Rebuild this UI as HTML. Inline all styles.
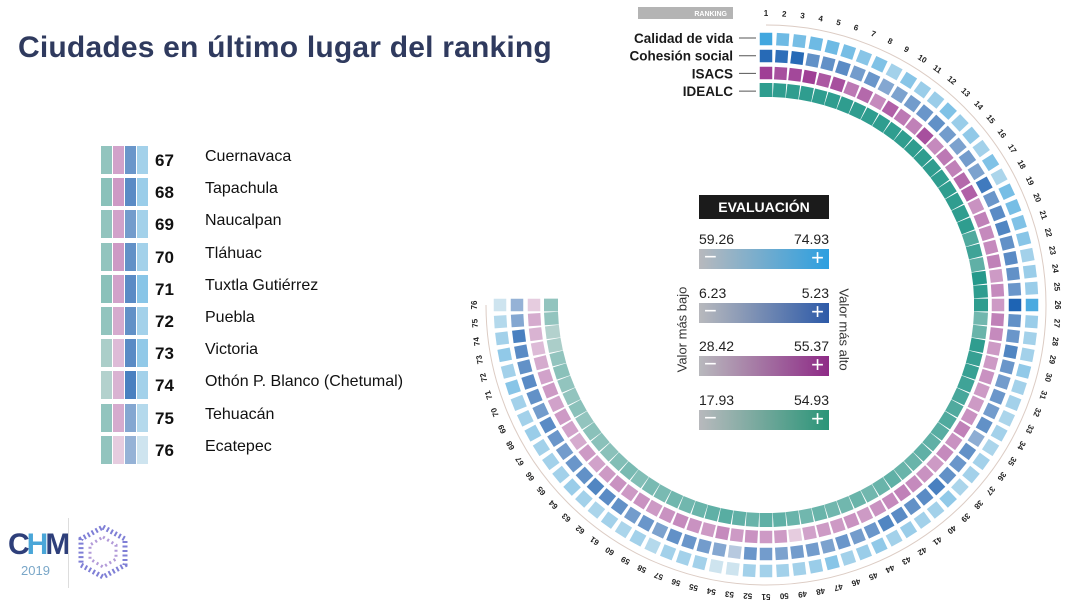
<!DOCTYPE html>
<html><head><meta charset="utf-8">
<style>
body{margin:0;width:1080px;height:604px;background:#fff;overflow:hidden;font-family:"Liberation Sans",sans-serif;position:relative}
.abs{position:absolute}
</style></head>
<body>
<div class="abs" style="left:18px;top:31px;font-size:30px;font-weight:bold;color:#2f3a5e;white-space:nowrap;letter-spacing:0.2px">Ciudades en último lugar del ranking</div>

<div class="abs" id="legendList" style="left:0;top:0"></div>

<div class="abs" style="left:8px;top:525px;width:55px;height:60px">
  <div style="font-size:30px;font-weight:bold;color:#2e3f7a;letter-spacing:-3px;line-height:30px;margin-top:5px">C<span style="color:#4aa6d8">H</span>M</div>
  <div style="font-size:13px;color:#7aa7c8;text-align:center;line-height:14px;margin-top:4px">2019</div>
</div>
<div class="abs" style="left:68px;top:518px;width:1px;height:70px;background:#ddd"></div>
<svg class="abs" style="left:78px;top:525px" width="50" height="55">
  <polygon points="25,2 47,14 47,40 25,52 3,40 3,14" fill="none" stroke="#7f7fd6" stroke-width="5" stroke-dasharray="2 2.5"/>
  <polygon points="25,12 38,20 38,34 25,42 12,34 12,20" fill="none" stroke="#b29ad8" stroke-width="3" stroke-dasharray="2 3"/>
</svg>

<svg id="chart" class="abs" style="left:0;top:0" width="1080" height="604"></svg>

<div class="abs" style="left:699px;top:195px;width:130px;height:24px;background:#1b1b1b;color:#fff;font-weight:bold;font-size:14px;line-height:24px;text-align:center">EVALUACIÓN</div>
<div id="evals"></div>
<div class="abs" style="left:612px;top:322px;width:140px;transform:rotate(-90deg);font-size:13px;color:#333;text-align:center">Valor más bajo</div>
<div class="abs" style="left:774px;top:322px;width:140px;transform:rotate(90deg);font-size:13px;color:#333;text-align:center">Valor más alto</div>

<script>
const calidad=[.85,.6,.55,.6,.6,.55,.45,.5,.3,.45,.35,.35,.5,.35,.4,.3,.5,.25,.55,.55,.5,.45,.3,.35,.35,.8,.35,.3,.3,.4,.3,.3,.25,.3,.25,.3,.3,.25,.4,.3,.3,.35,.3,.4,.35,.3,.45,.35,.3,.3,.3,.3,.05,.05,.3,.3,.3,.2,.3,.25,.3,.25,.3,.35,.3,.3,.3,.35,.3,.3,.45,.3,.4,.3,.2,.05];
const cohesion=[.95,.9,.95,.6,.6,.65,.5,.55,.4,.45,.5,.55,.6,.5,.45,.5,.45,.8,.55,.65,.7,.6,.65,.6,.55,1,.6,.55,.7,.55,.5,.55,.5,.6,.35,.6,.55,.6,.75,.65,.6,.65,.7,.55,.5,.55,.45,.5,.5,.45,.5,.55,.1,.4,.5,.55,.6,.45,.55,.5,.6,.65,.7,.6,.55,.5,.55,.65,.5,.6,.65,.6,.65,.75,.4,.3];
const isacs=[.95,.85,.9,.95,.8,.85,.6,.7,.5,.75,.6,.55,.85,.5,.6,.55,.7,.75,.45,.55,.5,.5,.55,.4,.5,.4,.55,.5,.4,.4,.45,.4,.4,.45,.55,.45,.5,.4,.45,.5,.55,.5,.45,.4,.45,.4,.4,.35,.1,.4,.4,.45,.4,.5,.4,.45,.5,.45,.4,.45,.4,.45,.4,.35,.4,.3,.35,.4,.35,.4,.35,.3,.2,.25,.3,.1];
const idealc=[.9,.9,.9,.9,.9,.9,.9,.9,.9,.9,.9,.9,.9,.9,.9,.9,.9,.9,.9,.9,.7,.8,.6,.95,.9,.9,.5,.55,.9,.85,.85,.8,.75,.7,.7,.65,.6,.6,.55,.55,.6,.55,.5,.55,.5,.5,.55,.5,.55,.6,.6,.55,.6,.65,.6,.55,.5,.5,.45,.45,.4,.45,.4,.35,.35,.35,.3,.35,.3,.3,.35,.3,.15,.1,.3,.3];
const seriesNames=["Calidad de vida","Cohesión social","ISACS","IDEALC"];
const cities=["Cuernavaca","Tapachula","Naucalpan","Tláhuac","Tuxtla Gutiérrez","Puebla","Victoria","Othón P. Blanco (Chetumal)","Tehuacán","Ecatepec"];
const evalLow=["59.26","6.23","28.42","17.93"];
const evalHigh=["74.93","5.23","55.37","54.93"];

const series=[calidad,cohesion,isacs,idealc];
const lowC=[[215,232,240],[200,212,228],[238,220,232],[196,216,213]];
const highC=[[40,155,220],[30,100,180],[155,55,145],[30,150,135]];
const grad=["#2c9fe0","#2d5aa8","#8e2a86","#2a9578"];
function col(s,t){const a=lowC[s],b=highC[s];return `rgb(${a.map((v,i)=>Math.round(v+(b[i]-v)*t)).join(',')})`;}
const NS="http://www.w3.org/2000/svg";
const svg=document.getElementById('chart');
const cx=766,cy=305,radii=[266,249,232,215];
const N=calidad.length;
function ang(i){return -90+i*270/(N-1);}
function mk(tag,attrs){const e=document.createElementNS(NS,tag);for(const k in attrs)e.setAttribute(k,attrs[k]);svg.appendChild(e);return e;}
const R0=280;
const arc=mk('path',{d:`M ${cx} ${cy-R0} A ${R0} ${R0} 0 1 1 ${cx-R0} ${cy}`,fill:'none',stroke:'#dcccc4','stroke-width':1});


for(let s=0;s<4;s++){
  for(let i=0;i<N;i++){
    const a=ang(i),r=radii[s],rad=a*Math.PI/180;
    const x=cx+r*Math.cos(rad),y=cy+r*Math.sin(rad);
    const w=(s==3)?r*Math.PI*3.6/180-0.8:12.5;
    const h=(s==3)?14:12.5;
    const c=mk('rect',{x:-w/2,y:-h/2,width:w,height:h,fill:col(s,series[s][i]),transform:`translate(${x.toFixed(1)},${y.toFixed(1)}) rotate(${(a+90).toFixed(1)})`});
    
    
  }
}
for(let i=0;i<N;i++){
  const a=ang(i),rad=a*Math.PI/180,r=292;
  const t=mk('text',{x:0,y:3,'font-size':8,'font-weight':'bold','text-anchor':'middle',fill:'#222',transform:`translate(${(cx+r*Math.cos(rad)).toFixed(1)},${(cy+r*Math.sin(rad)).toFixed(1)}) rotate(${(a+90).toFixed(1)})`});
  t.textContent=i+1;
  
  
}
const rb=mk('rect',{x:638,y:7,width:95,height:12,fill:'#b4b4b4'});


const rt=mk('text',{x:727,y:16,'font-size':7,'font-weight':'bold','text-anchor':'end',fill:'#fff'});
rt.textContent='RANKING';


for(let s=0;s<4;s++){
  const y=38+s*17.7;
  const t=mk('text',{x:733,y:y+5,'font-size':13.5,'font-weight':'bold','text-anchor':'end',fill:'#1a1a1a'});
  t.textContent=seriesNames[s];
  
  
  const l=mk('line',{x1:739,x2:756,y1:y,y2:y,stroke:'#555','stroke-width':1});
  
  
}
const ev=document.getElementById('evals');
for(let k=0;k<4;k++){
  const top=249+k*53.7;
  const d=document.createElement('div');
  d.className='abs';
  
  
  d.style.cssText=`left:699px;top:${top-19}px;width:130px;height:40px;`;
  d.innerHTML=`<div style="display:flex;justify-content:space-between;font-size:14px;color:#222;height:19px;line-height:19px"><span>${evalLow[k]}</span><span>${evalHigh[k]}</span></div><div style="height:20px;background:linear-gradient(90deg,#b8b9bd,${grad[k]});position:relative;color:#fff;font-size:22px;line-height:20px"><span style="position:absolute;left:5px;top:-2px">−</span><span style="position:absolute;right:5px;top:-1px">+</span></div>`;
  ev.appendChild(d);
}
const ll=document.getElementById('legendList');
const order=[3,2,1,0];
for(let j=0;j<cities.length;j++){
  const idx=66+j,top=146+j*32.2;
  const row=document.createElement('div');
  row.className='abs';
  
  
  row.style.cssText=`left:101px;top:${top}px;width:360px;height:30px`;
  let h='<div style="position:absolute;left:0;top:0;display:flex;gap:1px">';
  order.forEach(s=>{h+=`<div style="width:11px;height:28px;background:${col(s,series[s][idx])}"></div>`;});
  h+=`</div><div style="position:absolute;left:54px;top:5px;font-size:17px;font-weight:bold;color:#111">${idx+1}</div><div style="position:absolute;left:104px;top:2px;font-size:16px;color:#111;white-space:nowrap">${cities[j]}</div>`;
  row.innerHTML=h;
  ll.appendChild(row);
}
</script>
</body></html>
